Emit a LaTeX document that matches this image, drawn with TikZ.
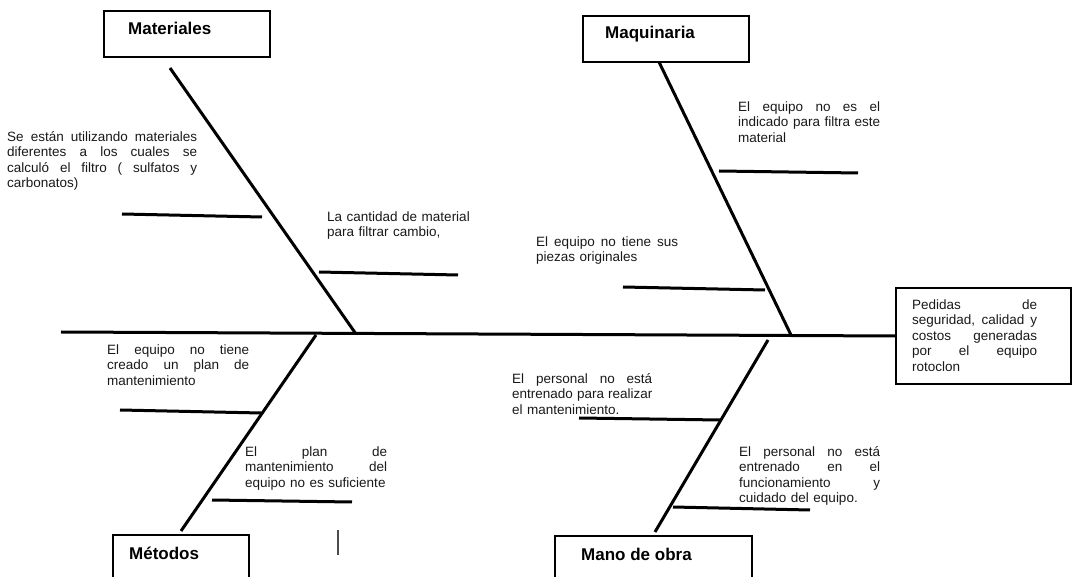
\documentclass[tikz,border=0pt]{standalone}
\usepackage{fontspec}
\setmainfont{Liberation Sans}
% one stretched (justified) line of a cause text
\newcommand\jline[1]{\leavevmode\hbox to \hsize{\spaceskip=0.3em plus 1fil\relax #1}\\}
\tikzset{
  bone/.style={line width=3pt, line cap=butt},
  catbox/.style={draw, line width=1.5pt, inner sep=0pt, minimum width=166pt, minimum height=46pt},
  cattext/.style={font=\bfseries\fontsize{17}{20}\selectfont, anchor=base west, inner sep=0pt},
  cause/.style={font=\fontsize{13.5}{15.4}\selectfont, text=black!90, anchor=base west, inner sep=0pt, align=left},
}
\begin{document}
\begin{tikzpicture}[x=1pt,y=-1pt]
\useasboundingbox (0,0) rectangle (1072,577);
\clip (0,0) rectangle (1072,577);

% category boxes
\node[catbox] (mat) at (187,34) {};
\node[cattext] (matT) at (128,35) {Materiales};
\node[catbox] (maq) at (666,39) {};
\node[cattext] (maqT) at (605,39) {Maquinaria};
\node[catbox, minimum width=136pt, minimum height=50pt] (met) at (181,560) {};
\node[cattext] (metT) at (129,559) {Métodos};
\node[catbox, minimum width=197pt, minimum height=50pt] (mano) at (653.5,561) {};
\node[cattext] (manoT) at (581,560) {Mano de obra};

% effect box
\node[draw, line width=1.5pt, inner sep=0pt, minimum width=175pt, minimum height=96pt] (eff) at (983.5,336) {};
\node[cause, text width=125pt] (effT) at (912,309.5) {%
  \jline{Pedidas de}\jline{seguridad, calidad y}\jline{costos generadas}\jline{por el equipo}rotoclon};

% spine
\coordinate (tail) at (61,332);
\draw[bone] (tail) -- (eff.west);

% main bones
\coordinate (matA) at (170,68);   \coordinate (matB) at (356,334);
\coordinate (maqA) at (659,62);   \coordinate (maqB) at (791,335);
\coordinate (metA) at (316,335);  \coordinate (metB) at (181,531);
\coordinate (manA) at (768,340);  \coordinate (manB) at (655,532);
\draw[bone] (matA) -- (matB);
\draw[bone] (maqA) -- (maqB);
\draw[bone] (metA) -- (metB);
\draw[bone] (manA) -- (manB);

% cause branches
\coordinate (c1a) at (122,214); \coordinate (c1b) at (262,217);
\coordinate (c2a) at (319,272); \coordinate (c2b) at (458,275);
\coordinate (c3a) at (719,171); \coordinate (c3b) at (858,173);
\coordinate (c4a) at (623,287); \coordinate (c4b) at (765,290);
\coordinate (c5a) at (120,410); \coordinate (c5b) at (261,413);
\coordinate (c6a) at (212,500); \coordinate (c6b) at (352,502);
\coordinate (c7a) at (579,418); \coordinate (c7b) at (720,420);
\coordinate (c8a) at (673,507); \coordinate (c8b) at (810,510);
\foreach \c in {1,...,8} \draw[bone] (c\c a) -- (c\c b);

% stray mark
\coordinate (sA) at (338,530); \coordinate (sB) at (338,555);
\draw[line width=1.3pt, black!70] (sA) -- (sB);

% cause texts
\node[cause, text width=190pt] (t1) at (7,141.5) {%
  \jline{Se están utilizando materiales}\jline{diferentes a los cuales se}\jline{calculó el filtro ( sulfatos y}carbonatos)};
\node[cause, text width=150pt] (t2) at (327,221.5) {La cantidad de material\\para filtrar cambio,};
\node[cause, text width=142pt] (t3) at (738,111.5) {%
  \jline{El equipo no es el}\jline{indicado para filtra este}material};
\node[cause, text width=142pt] (t4) at (536,246.5) {%
  \jline{El equipo no tiene sus}piezas originales};
\node[cause, text width=142pt] (t5) at (107,354.5) {%
  \jline{El equipo no tiene}\jline{creado un plan de}mantenimiento};
\node[cause, text width=142pt] (t6) at (245,456.5) {%
  \jline{El plan de}\jline{mantenimiento del}equipo no es suficiente};
\node[cause, text width=140pt] (t7) at (512,383.5) {%
  \jline{El personal no está}\jline{entrenado para realizar}el mantenimiento.};
\node[cause, text width=141pt] (t8) at (739,456.5) {%
  \jline{El personal no está}\jline{entrenado en el}\jline{funcionamiento y}cuidado del equipo.};
\end{tikzpicture}
\end{document}
